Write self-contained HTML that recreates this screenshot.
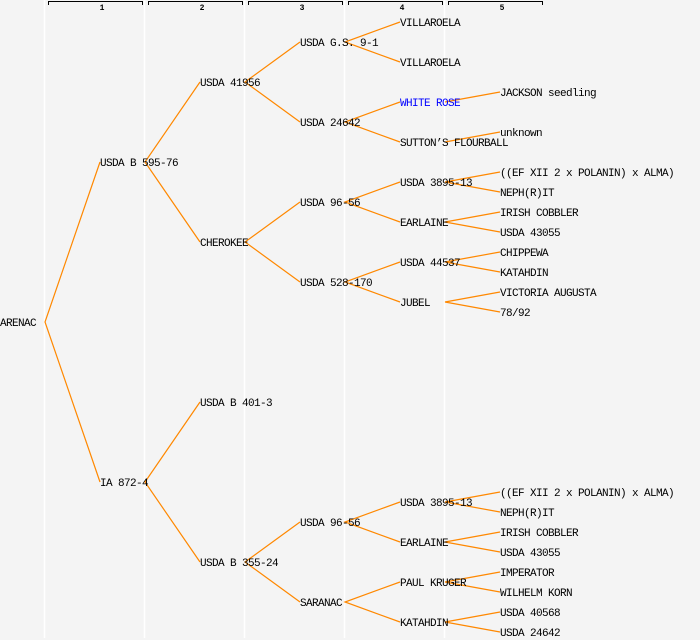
<!DOCTYPE html>
<html><head><meta charset="utf-8"><style>
html,body{margin:0;padding:0;background:#f4f4f4;}
svg{display:block;}
text{font-family:"Liberation Mono",monospace;font-size:11px;fill:#000;letter-spacing:-0.6px;}
.h{font-size:8px;text-anchor:middle;letter-spacing:0;font-weight:bold;}
</style></head><body>
<svg width="700" height="640" viewBox="0 0 700 640">
<rect width="700" height="640" fill="#f4f4f4"/>
<g stroke="#fff" stroke-width="1.5">
<line x1="44.5" y1="0" x2="44.5" y2="638"/>
<line x1="144.5" y1="0" x2="144.5" y2="638"/>
<line x1="244.5" y1="0" x2="244.5" y2="638"/>
<line x1="344.5" y1="0" x2="344.5" y2="638"/>
<line x1="444.5" y1="0" x2="444.5" y2="638"/>
</g>
<g stroke="#000" stroke-width="1" fill="none">
<path d="M48.5,5V1.5H142.5V5"/>
<path d="M148.5,5V1.5H242.5V5"/>
<path d="M248.5,5V1.5H342.5V5"/>
<path d="M348.5,5V1.5H442.5V5"/>
<path d="M448.5,5V1.5H542.5V5"/>
</g>
<text class="h" x="102" y="10">1</text>
<text class="h" x="202" y="10">2</text>
<text class="h" x="302" y="10">3</text>
<text class="h" x="402" y="10">4</text>
<text class="h" x="502" y="10">5</text>
<g stroke="#ff8800" stroke-width="1.2" fill="none">
<path d="M100,162L45,322L100,482"/>
<path d="M200,82L145,162L200,242"/>
<path d="M200,402L145,482L200,562"/>
<path d="M300,42L245,82L300,122"/>
<path d="M300,202L245,242L300,282"/>
<path d="M300,522L245,562L300,602"/>
<path d="M400,22L345,42L400,62"/>
<path d="M400,102L345,122L400,142"/>
<path d="M400,182L345,202L400,222"/>
<path d="M400,262L345,282L400,302"/>
<path d="M400,502L345,522L400,542"/>
<path d="M400,582L345,602L400,622"/>
<path d="M500,92L445,102"/>
<path d="M500,132L445,142"/>
<path d="M500,172L445,182L500,192"/>
<path d="M500,212L445,222L500,232"/>
<path d="M500,252L445,262L500,272"/>
<path d="M500,292L445,302L500,312"/>
<path d="M500,492L445,502L500,512"/>
<path d="M500,532L445,542L500,552"/>
<path d="M500,572L445,582L500,592"/>
<path d="M500,612L445,622L500,632"/>
</g>
<text x="0" y="326">ARENAC</text>
<text x="100" y="166">USDA B 595-76</text>
<text x="100" y="486">IA 872-4</text>
<text x="200" y="86">USDA 41956</text>
<text x="200" y="246">CHEROKEE</text>
<text x="200" y="406">USDA B 401-3</text>
<text x="200" y="566">USDA B 355-24</text>
<text x="300" y="46">USDA G.S. 9-1</text>
<text x="300" y="126">USDA 24642</text>
<text x="300" y="206">USDA 96-56</text>
<text x="300" y="286">USDA 528-170</text>
<text x="300" y="526">USDA 96-56</text>
<text x="300" y="606">SARANAC</text>
<text x="400" y="26">VILLAROELA</text>
<text x="400" y="66">VILLAROELA</text>
<text x="400" y="106" style="fill:#0000ff">WHITE ROSE</text>
<text x="400" y="146">SUTTON’S FLOURBALL</text>
<text x="400" y="186">USDA 3895-13</text>
<text x="400" y="226">EARLAINE</text>
<text x="400" y="266">USDA 44537</text>
<text x="400" y="306">JUBEL</text>
<text x="400" y="506">USDA 3895-13</text>
<text x="400" y="546">EARLAINE</text>
<text x="400" y="586">PAUL KRUGER</text>
<text x="400" y="626">KATAHDIN</text>
<text x="500" y="96">JACKSON seedling</text>
<text x="500" y="136">unknown</text>
<text x="500" y="176">((EF XII 2 x POLANIN) x ALMA)</text>
<text x="500" y="196">NEPH(R)IT</text>
<text x="500" y="216">IRISH COBBLER</text>
<text x="500" y="236">USDA 43055</text>
<text x="500" y="256">CHIPPEWA</text>
<text x="500" y="276">KATAHDIN</text>
<text x="500" y="296">VICTORIA AUGUSTA</text>
<text x="500" y="316">78/92</text>
<text x="500" y="496">((EF XII 2 x POLANIN) x ALMA)</text>
<text x="500" y="516">NEPH(R)IT</text>
<text x="500" y="536">IRISH COBBLER</text>
<text x="500" y="556">USDA 43055</text>
<text x="500" y="576">IMPERATOR</text>
<text x="500" y="596">WILHELM KORN</text>
<text x="500" y="616">USDA 40568</text>
<text x="500" y="636">USDA 24642</text>
</svg>
</body></html>
